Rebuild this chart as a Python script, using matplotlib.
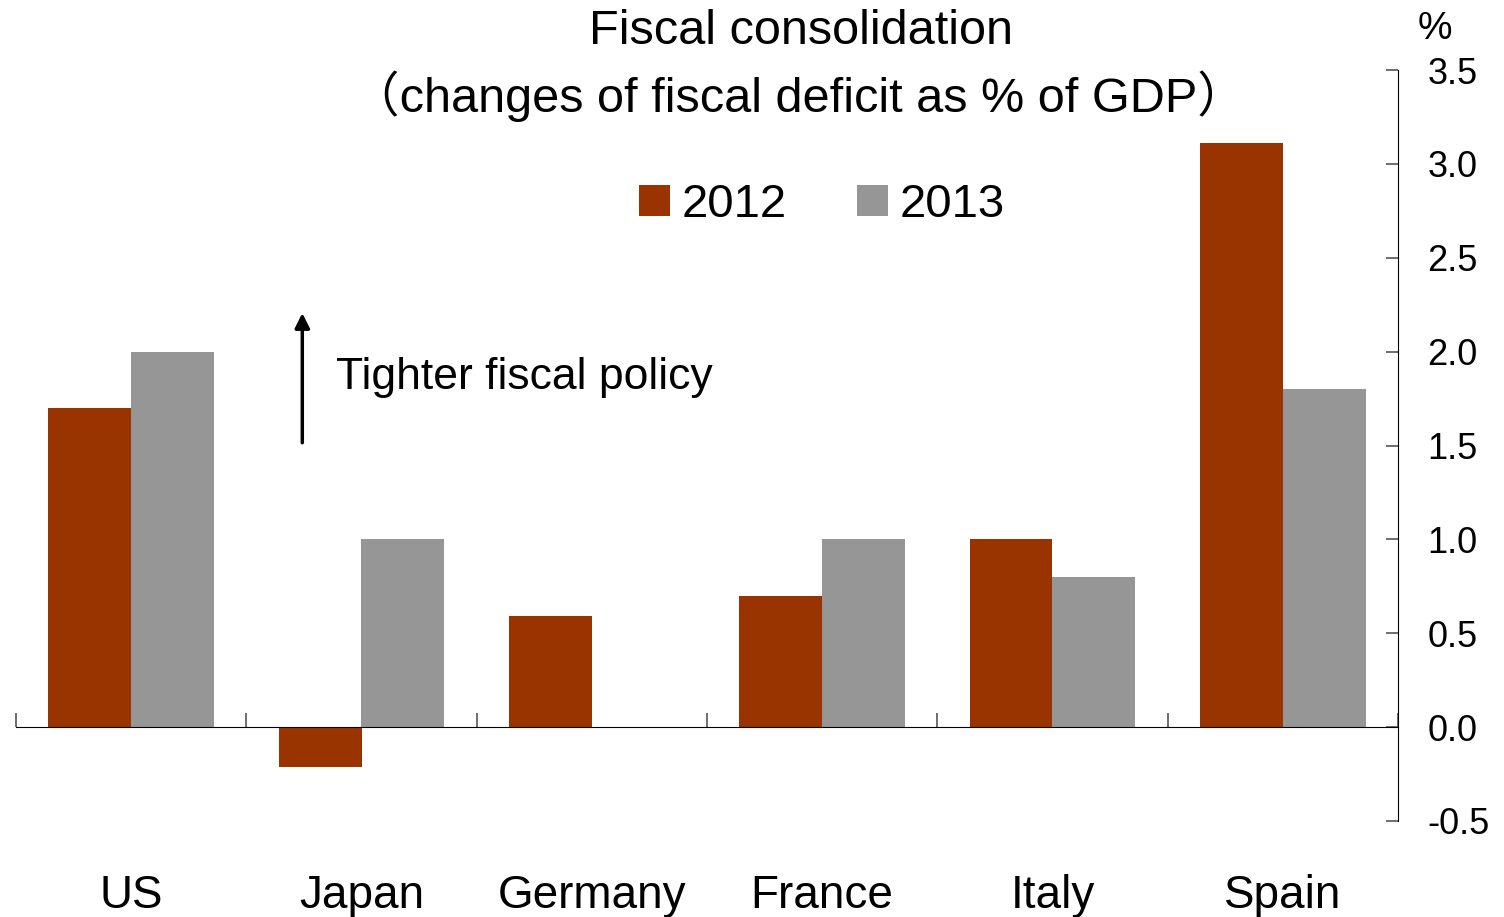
import numpy as np
import matplotlib
matplotlib.use("Agg")
import matplotlib.pyplot as plt

plt.rcParams['font.family'] = ['Liberation Sans', 'Noto Sans CJK SC', 'DejaVu Sans']

countries = ["US", "Japan", "Germany", "France", "Italy", "Spain"]
years = ["2012", "2013"]
vals_2012 = [1.7, -0.21, 0.59, 0.7, 1.0, 3.11]
vals_2013 = [2.0, 1.0, 0.0, 1.0, 0.8, 1.8]
colors = ["#993300", "#969696"]
yticks = [-0.5, 0.0, 0.5, 1.0, 1.5, 2.0, 2.5, 3.0, 3.5]

fig = plt.figure(figsize=(15.04, 9.17), dpi=100)
ax = fig.add_axes([16 / 1504, 1 - 821 / 917, (1398 - 16) / 1504, (821 - 70) / 917])

x = np.arange(len(countries))
w = 0.36
ax.bar(x - 0.18, vals_2012, w, color=colors[0], label=years[0])
ax.bar(x + 0.18, vals_2013, w, color=colors[1], label=years[1])

ax.set_xlim(-0.5, len(countries) - 0.5)
ax.set_ylim(-0.5, 3.5)

# spines
ax.spines['left'].set_visible(False)
ax.spines['top'].set_visible(False)
ax.spines['bottom'].set_position(('data', 0))
ax.spines['bottom'].set_color('black')
ax.spines['right'].set_color('black')

# y axis on the right, inward ticks
ax.yaxis.tick_right()
ax.set_yticks(yticks)
ax.set_yticklabels([f"{v:.1f}" for v in yticks])
ax.tick_params(axis='y', direction='in', length=8.5, width=1.2, color='#555555',
               labelsize=26, pad=21, right=True, left=False)

# x axis: boundary ticks pointing up, labels far below
ax.set_xticks(np.arange(-0.5, len(countries), 1.0), minor=True)
ax.set_xticks(x)
ax.set_xticklabels(countries)
ax.tick_params(axis='x', which='minor', direction='in', length=10, width=1.2, color='#555555')
ax.tick_params(axis='x', which='major', length=0, labelsize=33, pad=106)

# annotation arrow
ax.annotate("", xy=(0.743, 2.22), xytext=(0.743, 1.50),
            arrowprops=dict(arrowstyle='-|>', color='black', lw=2.5, mutation_scale=22))
ax.text(0.89, 1.86, "Tighter fiscal policy", fontsize=32, va='center', ha='left')

# titles
fig.text(801 / 1504, 1 - 32 / 917, "Fiscal consolidation", fontsize=35, ha='center', va='center')
fig.text(798 / 1504, 1 - 96 / 917, "（changes of fiscal deficit as % of GDP）", fontsize=35,
         ha='center', va='center')
fig.text(1435 / 1504, 1 - 29 / 917, "%", fontsize=28, ha='center', va='center')

fig.legend(loc='center', bbox_to_anchor=(822 / 1504, 1 - 205 / 917), ncol=2, frameon=False,
           fontsize=34, handlelength=0.64, handleheight=0.64, handletextpad=0.25,
           columnspacing=1.5)

fig.savefig("out.png", dpi=100)
